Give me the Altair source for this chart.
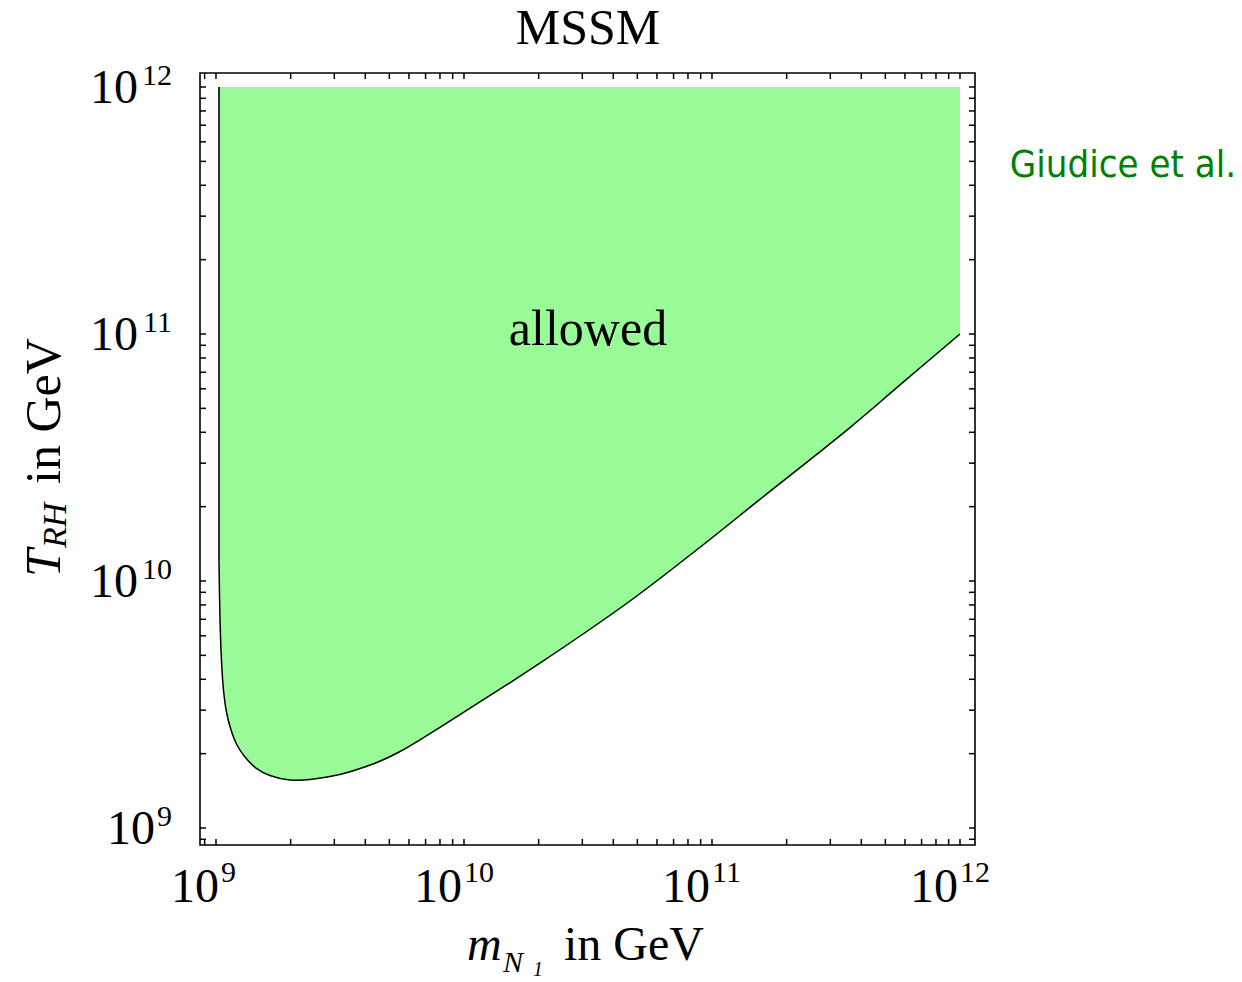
import altair as alt
import pandas as pd

# Boundary of the allowed region (GeV): first point is the top of the left edge
m_n1 = [1.028e9, 1.028e9, 1.038e9, 1.052e9, 1.072e9, 1.102e9, 1.150e9, 1.215e9,
        1.309e9, 1.450e9, 1.651e9, 1.988e9, 2.882e9, 4.377e9, 5.52e9, 9.64e9,
        2.03e10, 4.67e10, 8.95e10, 1.56e11, 3.60e11, 5.73e11, 1.0e12]
t_rh = [1.0e12, 1.216e10, 6.95e9, 4.79e9, 3.62e9, 2.949e9, 2.494e9, 2.168e9,
        1.939e9, 1.749e9, 1.631e9, 1.564e9, 1.615e9, 1.83e9, 2.04e9, 2.88e9,
        4.66e9, 8.30e9, 1.37e10, 2.14e10, 4.18e10, 6.22e10, 1.0e11]

# Decade exponents labelled on both axes
label_exps = [9, 10, 11, 12]

SERIF = "Liberation Serif"
W, H = 775, 772

xs = alt.Scale(type="log", domain=[10 ** 8.9355, 10 ** 12.0605], nice=False)
ys = alt.Scale(type="log", domain=[10 ** 8.9312, 10 ** 12.0567], nice=False)

curve = pd.DataFrame({"m": m_n1[1:], "T": t_rh[1:]})
edge = pd.DataFrame({"m": [m_n1[0]], "T": [t_rh[0]], "T2": [t_rh[1]]})

# log-axis tick positions: 1..9 x 10^d, kept inside the frame
tick_vals = [k * 10.0 ** d for d in range(8, 12) for k in range(1, 10)] + [1e12]
tick_vals = [v for v in tick_vals if 10 ** 8.93 < v < 10 ** 12.056]
ticks = pd.DataFrame({"v": tick_vals})
labels = pd.DataFrame({"v": [10.0 ** e for e in label_exps],
                       "e": [str(e) for e in label_exps]})

X = lambda f: alt.X(f, type="quantitative", scale=xs, axis=None)
Y = lambda f: alt.Y(f, type="quantitative", scale=ys, axis=None)

area = alt.Chart(curve).mark_area(color="#98FB98", opacity=1, interpolate="catmull-rom").encode(
    x=X("m"), y=Y("T"), y2=alt.datum(t_rh[0])
)
line = alt.Chart(curve).mark_line(color="black", strokeWidth=1.5, interpolate="catmull-rom").encode(
    x=X("m"), y=Y("T")
)
left_edge = alt.Chart(edge).mark_rule(color="black", strokeWidth=1.6).encode(
    x=X("m"), y=Y("T"), y2="T2"
)

tick_style = dict(color="black", strokeWidth=1.5)
tb = alt.Chart(ticks).mark_rule(**tick_style).encode(x=X("v"), y=alt.value(H), y2=alt.value(H - 6))
tt = alt.Chart(ticks).mark_rule(**tick_style).encode(x=X("v"), y=alt.value(0), y2=alt.value(6))
tl = alt.Chart(ticks).mark_rule(**tick_style).encode(y=Y("v"), x=alt.value(0), x2=alt.value(6))
tr = alt.Chart(ticks).mark_rule(**tick_style).encode(y=Y("v"), x=alt.value(W), x2=alt.value(W - 6))

one_digit = "length(datum.e) == 1"
two_digit = "length(datum.e) == 2"


def x_label(flt, shift):
    src = alt.Chart(labels).transform_filter(flt)
    base = src.mark_text(font=SERIF, fontSize=48, align="right", baseline="alphabetic",
                         dx=-2 + shift, color="black").encode(
        x=X("v"), y=alt.value(H + 57), text=alt.value("10"))
    exp = src.mark_text(font=SERIF, fontSize=30, align="left", baseline="alphabetic",
                        dx=shift, color="black").encode(
        x=X("v"), y=alt.value(H + 37), text="e:N")
    return [base, exp]


# tick labels: "10" with a raised exponent
x_labels = x_label(one_digit, 5) + x_label(two_digit, 0)
yl_exp = alt.Chart(labels).mark_text(font=SERIF, fontSize=30, align="right", baseline="alphabetic", dy=-2, color="black").encode(
    y=Y("v"), x=alt.value(-28), text="e:N")
yl_base1 = alt.Chart(labels).transform_filter(one_digit).mark_text(
    font=SERIF, fontSize=48, align="right", baseline="alphabetic", dy=16, color="black").encode(
    y=Y("v"), x=alt.value(-45), text=alt.value("10"))
yl_base2 = alt.Chart(labels).transform_filter(two_digit).mark_text(
    font=SERIF, fontSize=48, align="right", baseline="alphabetic", dy=16, color="black").encode(
    y=Y("v"), x=alt.value(-62), text=alt.value("10"))


def txt(s, x, y, size, style="normal", align="left", angle=0, color="black", font=SERIF):
    return alt.Chart(pd.DataFrame({"s": [s]})).mark_text(
        font=font, fontSize=size, fontStyle=style, align=align, baseline="alphabetic",
        angle=angle, color=color).encode(x=alt.value(x), y=alt.value(y), text="s:N")


title = txt("MSSM", 388, -29, 50, align="center")
allowed = txt("allowed", 388, 272, 50, align="center")

# x-axis title: m_{N_1} in GeV
xt = [
    txt("m", 267, 887, 48, "italic"),
    txt("N", 303, 899, 30, "italic"),
    txt("1", 333, 903, 20, "italic"),
    txt("in GeV", 364, 887, 48),
]
# y-axis title: T_{RH} in GeV (rotated)
yt = [
    txt("T", -140, 504, 50, "italic", angle=270),
    txt("RH", -134, 475, 34, "italic", angle=270),
    txt("in GeV", -140, 411, 50, angle=270),
]

credit = txt("Giudice et al.", 1036, 104, 38, align="right", color="#008000",
             font="DejaVu Sans Condensed, DejaVu Sans")

chart = alt.layer(
    area, line, left_edge, tb, tt, tl, tr,
    *x_labels, yl_exp, yl_base1, yl_base2,
    title, allowed, *xt, *yt, credit,
).properties(
    width=W, height=H,
    background="white",
    autosize=alt.AutoSizeParams(type="none"),
    padding={"left": 200, "top": 73, "right": 267, "bottom": 137},
).configure_view(stroke="black", strokeWidth=1.6)

chart.save("out.html", embed_options={"renderer": "svg", "actions": False})
